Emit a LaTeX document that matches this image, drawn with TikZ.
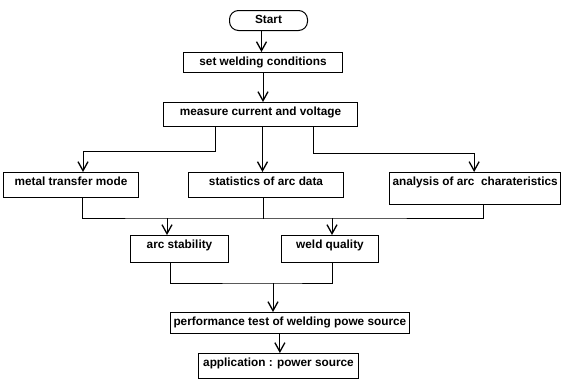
\documentclass[tikz,border=0pt]{standalone}
\usepackage{fontspec}
\setmainfont{Liberation Sans}
\usetikzlibrary{arrows.meta, positioning}
\tikzset{
  box/.style={draw, line width=1pt, anchor=north west, inner xsep=3pt, inner ysep=4pt,
    text height=9pt, text depth=3pt, font=\bfseries\fontsize{11.8}{13}\selectfont},
  line/.style={line width=1pt},
  flow/.style={line width=1pt, -{Straight Barb[length=9pt, width=10pt, line width=1.3pt]}}
}
\begin{document}
\begin{tikzpicture}[x=1pt, y=-1pt]
\useasboundingbox (0,0) rectangle (563,389);
\node[box, rounded corners=9pt, minimum width=78pt] (start) at (229,10) {Start};
\node[box, minimum width=159pt] (setc) at (183,52) {set welding conditions};
\node[box, minimum width=194pt, text depth=7pt] (meas) at (163,102) {measure current and voltage};
\node[box, minimum width=135pt, text depth=8pt] (metal) at (3,172) {metal transfer mode};
\node[box, minimum width=155pt, text depth=8pt] (stats) at (188,172) {statistics of arc data};
\node[box, minimum width=171pt, text depth=15pt] (anal) at (389,172) {analysis of arc\ \ charateristics};
\node[box, minimum width=98pt, text depth=10pt] (arcst) at (130,235) {arc stability};
\node[box, minimum width=97pt, text depth=10pt] (weld) at (281,235) {weld quality};
\node[box, minimum width=227pt, text depth=4pt] (perf) at (170,312) {performance test of welding powe source};
\node[box, minimum width=160pt, text depth=8pt] (appl) at (198,353) {application : power source};
\coordinate (j1) at (167,218);
\coordinate (j2) at (332,218);
\coordinate (j3) at (273,283);
\draw[flow] ([xshift=-7pt]start.south) -- ([xshift=-7pt]start.south |- setc.north);
\draw[flow] (setc.south) -- (setc.south |- meas.north);
\draw[flow] ([xshift=-45pt]meas.south) -- ++(0,24) -| ([xshift=12pt]metal.north);
\draw[flow] ([xshift=2pt]meas.south) -- ([xshift=2pt]meas.south |- stats.north);
\draw[flow] ([xshift=53pt]meas.south) -- ++(0,26) -| ([xshift=-1pt]anal.north);
\draw[line] ([xshift=11pt]metal.south) |- (j1) -- (j2) -| ([xshift=8pt]anal.south);
\draw[line] ([xshift=-3pt]stats.south) -- ++(0,21);
\draw[flow] (j1) -- (j1 |- arcst.north);
\draw[flow] (j2) -- (j2 |- weld.north);
\draw[line] ([xshift=-9pt]arcst.south) |- (j3) -| ([xshift=2pt]weld.south);
\draw[flow] (j3) -- (j3 |- perf.north);
\draw[flow] ([xshift=-10pt]perf.south) -- ([xshift=-10pt]perf.south |- appl.north);
\end{tikzpicture}
\end{document}
